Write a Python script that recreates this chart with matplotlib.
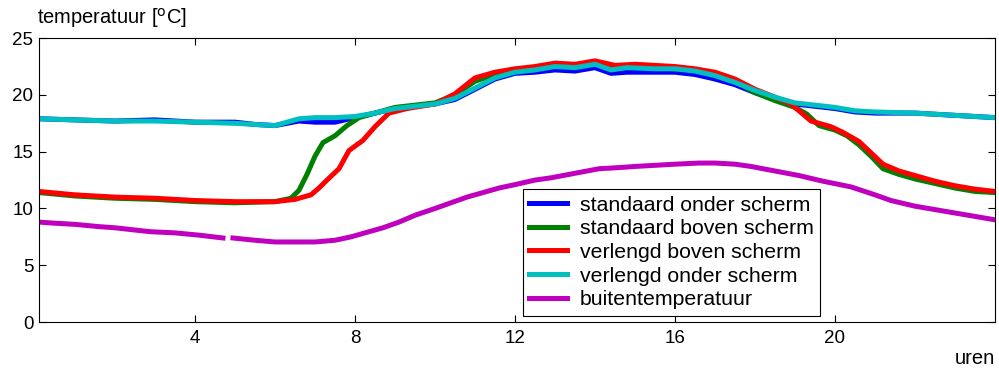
import numpy as np
import matplotlib.pyplot as plt

plt.rcParams['font.family'] = ['Liberation Sans', 'DejaVu Sans']

nan = np.nan

# onder scherm (standaard / verlengd)
t_onder = [0.1, 1, 2, 3, 4, 5, 5.5, 6, 6.3, 6.6, 7, 7.5, 8, 8.5, 9, 9.5, 10, 10.5, 11, 11.5,
           12, 12.5, 13, 13.5, 14, 14.4, 14.8, 15.5, 16, 16.5, 17, 17.5, 18, 18.5, 19, 19.5,
           20, 20.5, 21, 22, 23, 24]
std_onder = [17.9, 17.8, 17.7, 17.8, 17.6, 17.6, 17.4, 17.3, 17.5, 17.7, 17.6, 17.6, 18.0, 18.4,
             18.8, 19.0, 19.2, 19.6, 20.5, 21.4, 21.9, 22.0, 22.2, 22.1, 22.4, 21.9, 22.0, 22.0,
             22.0, 21.8, 21.4, 20.9, 20.2, 19.6, 19.2, 19.0, 18.8, 18.5, 18.4, 18.4, 18.2, 18.0]
verl_onder = [17.9, 17.8, 17.7, 17.7, 17.6, 17.5, 17.4, 17.3, 17.6, 17.9, 18.0, 18.0, 18.1, 18.4,
              18.8, 19.0, 19.2, 19.7, 20.6, 21.5, 22.0, 22.2, 22.5, 22.4, 22.7, 22.2, 22.4, 22.3,
              22.3, 22.1, 21.7, 21.1, 20.4, 19.8, 19.3, 19.1, 18.9, 18.6, 18.5, 18.4, 18.2, 18.0]

# boven scherm, standaard
t_std_boven = [0.1, 1, 2, 3, 4, 5, 6, 6.4, 6.6, 6.8, 7.0, 7.2, 7.5, 7.8, 8.1, 8.5, 9, 9.5, 10,
               10.5, 11, 11.5, 12, 12.5, 13, 13.5, 14, 14.5, 15, 15.5, 16, 16.5, 17, 17.5, 18,
               18.5, 19, 19.3, 19.6, 20, 20.3, 20.6, 20.9, 21.2, 21.6, 22, 22.5, 23, 23.5, 24]
std_boven = [11.4, 11.1, 10.9, 10.8, 10.6, 10.5, 10.6, 10.9, 11.6, 13.0, 14.6, 15.8, 16.4, 17.3,
             18.0, 18.4, 18.9, 19.1, 19.3, 20.0, 21.2, 21.8, 22.2, 22.4, 22.6, 22.5, 22.8, 22.4,
             22.5, 22.4, 22.3, 22.2, 21.8, 21.2, 20.2, 19.5, 18.9, 18.3, 17.3, 16.9, 16.4, 15.6,
             14.6, 13.5, 13.0, 12.6, 12.2, 11.8, 11.5, 11.4]

# boven scherm, verlengd
t_verl_boven = [0.1, 1, 2, 3, 4, 5, 6, 6.5, 6.9, 7.1, 7.3, 7.6, 7.85, 8.2, 8.5, 8.85, 9.3, 10,
                10.5, 11, 11.5, 12, 12.5, 13, 13.5, 14, 14.5, 15, 15.5, 16, 16.5, 17, 17.5, 18,
                18.5, 18.9, 19.1, 19.4, 19.9, 20.2, 20.6, 20.9, 21.2, 21.6, 22, 22.5, 23, 23.5, 24]
verl_boven = [11.5, 11.2, 11.0, 10.9, 10.7, 10.6, 10.6, 10.8, 11.2, 11.8, 12.5, 13.5, 15.1, 16.0,
              17.2, 18.4, 18.8, 19.2, 20.1, 21.5, 22.0, 22.3, 22.5, 22.8, 22.7, 23.0, 22.6, 22.7,
              22.6, 22.5, 22.3, 22.0, 21.4, 20.5, 19.8, 19.2, 18.6, 17.7, 17.2, 16.7, 15.9, 14.9,
              13.9, 13.3, 12.9, 12.4, 12.0, 11.7, 11.5]

# buitentemperatuur (ontbrekende meting rond 4.8 uur)
t_buiten = [0.1, 0.5, 1, 1.6, 2, 2.5, 2.9, 3.5, 4.1, 4.7, 4.8, 4.95, 5.5, 6, 6.5, 7, 7.5, 7.9,
            8.3, 8.7, 9.1, 9.5, 10, 10.4, 10.8, 11.2, 11.6, 12, 12.5, 12.9, 13.5, 14.1, 14.6, 15,
            15.5, 16, 16.6, 17, 17.5, 17.9, 18.5, 19.1, 19.7, 20.4, 21, 21.4, 22, 22.5, 23, 23.5, 24]
buiten = [8.8, 8.7, 8.6, 8.4, 8.3, 8.1, 7.95, 7.85, 7.65, 7.4, nan, 7.4, 7.2, 7.05, 7.05, 7.05,
          7.2, 7.5, 7.9, 8.3, 8.8, 9.4, 10.0, 10.5, 11.0, 11.4, 11.8, 12.1, 12.5, 12.7, 13.1, 13.5,
          13.6, 13.7, 13.8, 13.9, 14.0, 14.0, 13.9, 13.7, 13.3, 12.9, 12.4, 11.9, 11.2, 10.7, 10.2,
          9.9, 9.6, 9.3, 9.0]

fig = plt.figure(figsize=(9.99, 3.74), dpi=100)
ax = fig.add_axes([0.039, 0.139, 0.957, 0.759])

lw = 3.6
ax.plot(t_onder, std_onder, color='#0000ff', lw=lw, label='standaard onder scherm')
ax.plot(t_std_boven, std_boven, color='#008000', lw=lw, label='standaard boven scherm')
ax.plot(t_verl_boven, verl_boven, color='#ff0000', lw=lw, label='verlengd boven scherm')
ax.plot(t_onder, verl_onder, color='#00bfbf', lw=lw, label='verlengd onder scherm')
ax.plot(t_buiten, buiten, color='#bf00bf', lw=lw, label='buitentemperatuur')

ax.set_xlim(0.1, 24)
ax.set_ylim(0, 25)
ax.set_xticks([4, 8, 12, 16, 20])
ax.set_yticks([0, 5, 10, 15, 20, 25])
ax.tick_params(direction='in', top=True, right=True, length=5, width=0.8, labelsize=13.5)
ax.tick_params(axis='x', pad=6)
ax.tick_params(axis='y', pad=4)
for s in ax.spines.values():
    s.set_linewidth(0.8)

leg = ax.legend(loc='upper left', bbox_to_anchor=(0.506, 0.468), fontsize=15.3,
                frameon=True, fancybox=False, edgecolor='black', framealpha=1,
                handlelength=1.8, handletextpad=0.6, labelspacing=0.22,
                borderpad=0.3, borderaxespad=0)
leg.get_frame().set_linewidth(0.8)

fig.text(37 / 999, 1 - 18 / 374, 'temperatuur [$^{\\mathrm{o}}$C]', fontsize=14.5,
         ha='left', va='center')
fig.text(995 / 999, 1 - 358 / 374, 'uren', fontsize=14.5, ha='right', va='center')

fig.savefig('out.png', dpi=100)
